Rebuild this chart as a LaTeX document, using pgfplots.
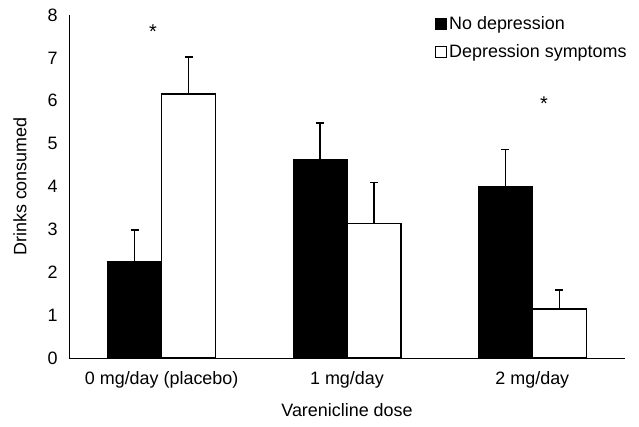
\documentclass[border=0pt]{standalone}
\usepackage{pgfplots}
\pgfplotsset{compat=1.18}
\usepackage{fontspec}
\setmainfont{Liberation Sans}

\pgfplotstableread{
x  y     err
0  2.26  0.73
1  4.63  0.85
2  4.01  0.86
}\nodep
\pgfplotstableread{
x  y     err
0  6.16  0.86
1  3.14  0.96
2  1.14  0.45
}\dep

\begin{document}
\begin{tikzpicture}
\path (0,0) rectangle (639bp,427bp);
\begin{axis}[
    at={(69bp,69bp)}, anchor=south west,
    scale only axis,
    width=556bp, height=343bp,
    ybar=0pt,
    bar width=54bp,
    xmin=-0.5, xmax=2.5,
    ymin=0, ymax=8,
    xtick=data,
    xticklabels={0 mg/day (placebo), 1 mg/day, 2 mg/day},
    ytick={0,1,...,8},
    major tick length=0pt,
    axis lines*=left,
    axis line style={line width=1pt},
    tick label style={font=\fontsize{18}{20}\selectfont},
    /pgf/number format/assume math mode=true,
    yticklabel style={xshift=-8bp},
    xticklabel style={yshift=-10bp},
    label style={font=\fontsize{18}{20}\selectfont},
    xlabel={Varenicline dose},
    ylabel={Drinks consumed},
    xlabel style={yshift=-8bp},
    ylabel style={yshift=14bp},
    legend style={draw=none, fill=none, at={(366bp,343bp)}, anchor=north west,
        font=\fontsize{18}{20}\selectfont, row sep=9bp, inner sep=0pt, outer sep=0pt,
        /tikz/every even column/.append style={column sep=3bp}},
    legend cell align=left,
    legend image code/.code={\draw[#1, line width=1.2pt] (0bp,-5.5bp) rectangle (11bp,5.5bp);},
    error bars/error bar style={line width=1.4pt, black},
    error bars/error mark options={rotate=90, mark size=4bp, line width=1.4pt, black},
]
\addplot[fill=black, draw=black, line width=1pt,
    error bars/.cd, y dir=plus, y explicit]
    table[x=x, y=y, y error=err] {\nodep};
\addplot[fill=white, draw=black, line width=1.4pt,
    error bars/.cd, y dir=plus, y explicit]
    table[x=x, y=y, y error=err] {\dep};
\legend{No depression, Depression symptoms}
\node[font=\fontsize{20}{22}\selectfont] at (axis cs:-0.047,7.62) {*};
\node[font=\fontsize{20}{22}\selectfont] at (axis cs:2.063,5.94) {*};
\end{axis}
\end{tikzpicture}
\end{document}
